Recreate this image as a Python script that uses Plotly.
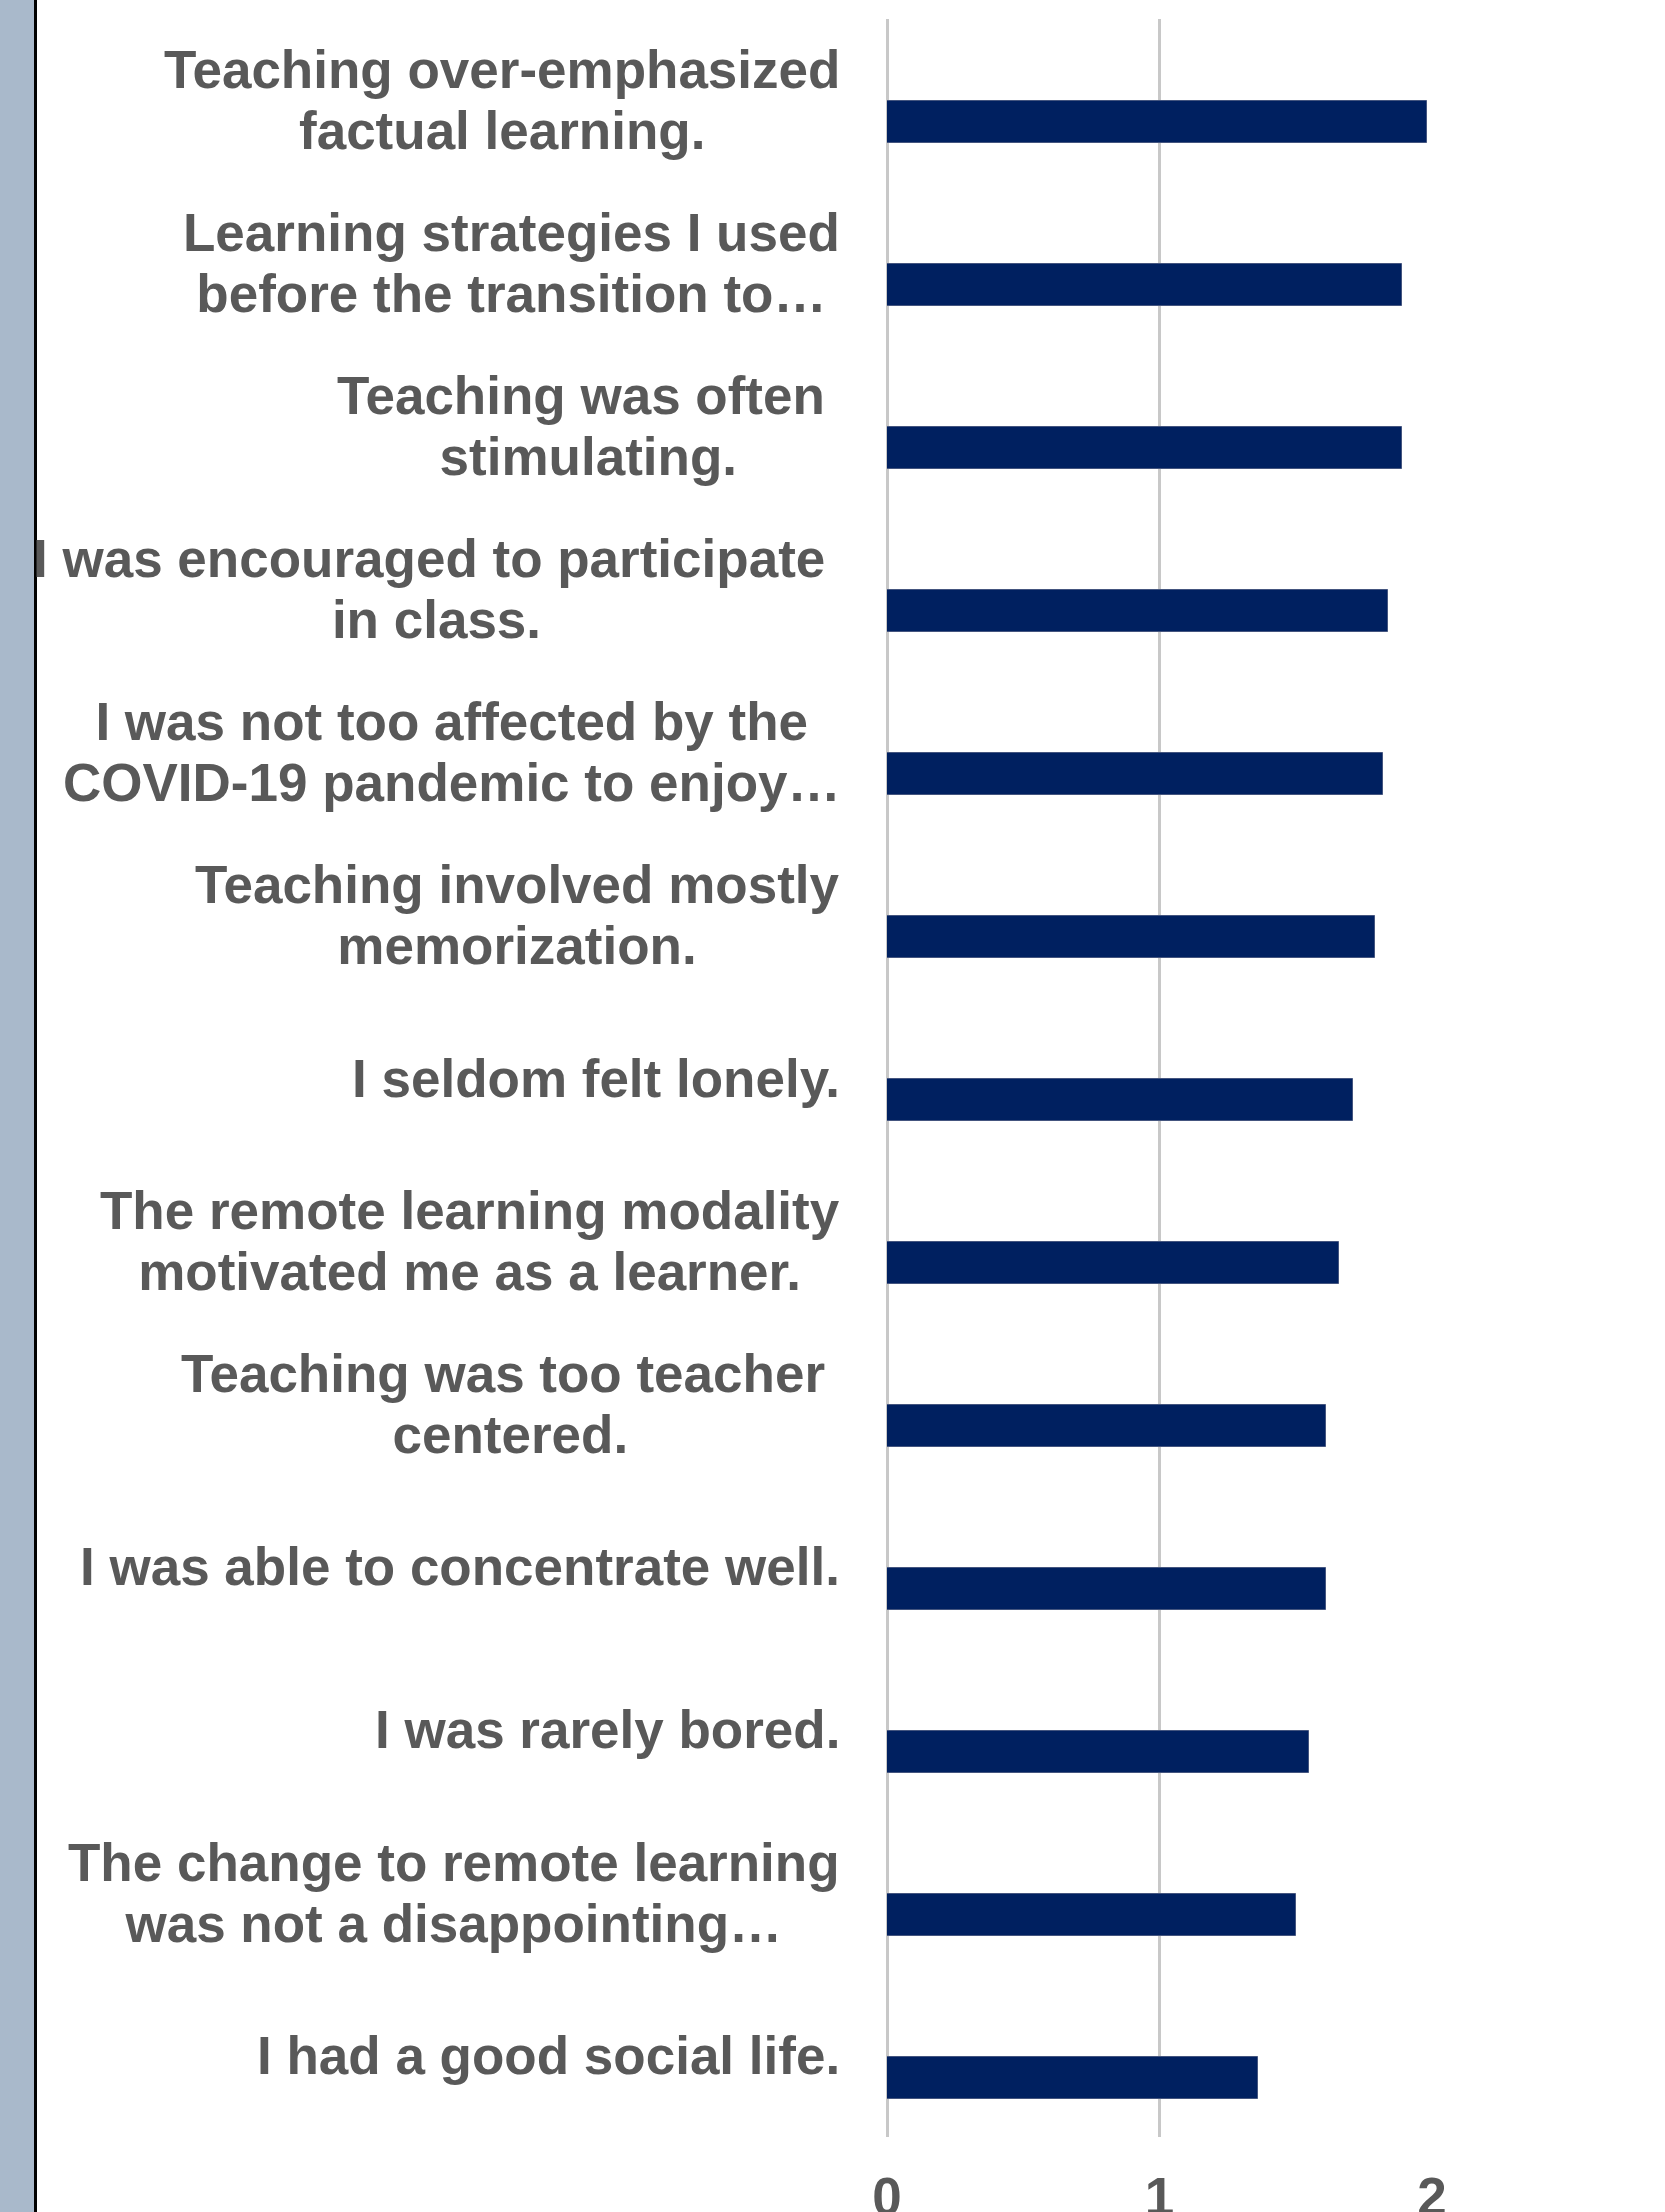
import plotly.graph_objects as go

# ---- data ----
categories = [
    "Teaching over-emphasized<br>factual learning.",
    "Learning strategies I used<br>before the transition to…",
    "Teaching was often<br>stimulating.",
    "I was encouraged to participate<br>in class.",
    "I was not too affected by the<br>COVID-19 pandemic to enjoy…",
    "Teaching involved mostly<br>memorization.",
    "I seldom felt lonely.",
    "The remote learning modality<br>motivated me as a learner.",
    "Teaching was too teacher<br>centered.",
    "I was able to concentrate well.",
    "I was rarely bored.",
    "The change to remote learning<br>was not a disappointing…",
    "I had a good social life.",
]
values = [1.98, 1.89, 1.89, 1.84, 1.82, 1.79, 1.71, 1.66, 1.61, 1.61, 1.55, 1.50, 1.36]
x_tick_values = [0, 1, 2]
x_tick_labels = ["0", "1", "2"]

# ---- style ----
W, H = 1665, 2212
ML, MR, MT, MB = 887, 233, 19, 75
PW = W - ML - MR
PH = H - MT - MB
TEXT = "#595959"
FONT = "Liberation Sans, Arial, sans-serif"
BAR = "#002060"
GRID = "#C8C8C8"
# labels whose first wrapped line keeps a trailing space (as in the original rendering)
TRAILING_SPACE_LABELS = {2, 3, 8}

positions = list(range(len(categories)))

fig = go.Figure()
fig.add_trace(go.Bar(
    x=values, y=positions, orientation="h",
    width=0.258, offset=0.006,
    marker=dict(color=BAR, line=dict(color="#44557F", width=1)),
    hoverinfo="skip", showlegend=False,
))

def px_to_paper_x(px):
    return (px - ML) / PW

def px_to_paper_y(py):
    return 1 - (py - MT) / PH

annotations = []
label_right = px_to_paper_x(841)
for pos, lab in zip(positions, categories):
    lines = lab.split("<br>")
    if pos in TRAILING_SPACE_LABELS:
        lines[0] = lines[0] + "\u00a0"
    txt = "<br>".join('<span style="font-size:53px">%s</span>' % l for l in lines)
    annotations.append(dict(
        x=label_right, xref="paper", y=pos, yref="y",
        text=txt, xanchor="right", yanchor="middle", align="center",
        showarrow=False, borderpad=0,
        font=dict(family=FONT, size=47, color=TEXT, weight="bold"),
    ))

shapes = [
    dict(type="rect", xref="paper", yref="paper",
         x0=px_to_paper_x(-5), x1=px_to_paper_x(34.5),
         y0=px_to_paper_y(H + 10), y1=px_to_paper_y(-10),
         fillcolor="#A9B9CB", line=dict(width=0), layer="above"),
    dict(type="line", xref="paper", yref="paper",
         x0=px_to_paper_x(35.5), x1=px_to_paper_x(35.5),
         y0=px_to_paper_y(H + 10), y1=px_to_paper_y(-10),
         line=dict(color="#000000", width=3), layer="above"),
]

fig.update_layout(
    width=W, height=H,
    margin=dict(l=ML, r=MR, t=MT, b=MB, pad=0, autoexpand=False),
    paper_bgcolor="white", plot_bgcolor="white",
    annotations=annotations, shapes=shapes,
    xaxis=dict(
        range=[0, 2], tickvals=x_tick_values, ticktext=x_tick_labels,
        showgrid=True, gridcolor=GRID, gridwidth=3,
        zeroline=True, zerolinecolor=GRID, zerolinewidth=3,
        showline=False, ticks="", ticklabelstandoff=24, automargin=False,
        tickfont=dict(family=FONT, size=53, color=TEXT, weight="bold"),
        fixedrange=True,
    ),
    yaxis=dict(
        range=[len(categories) - 0.5, -0.5], automargin=False,
        showticklabels=False, showgrid=False, zeroline=False, showline=False,
        ticks="", fixedrange=True,
    ),
    bargap=0,
)

fig.write_html("out.html")
